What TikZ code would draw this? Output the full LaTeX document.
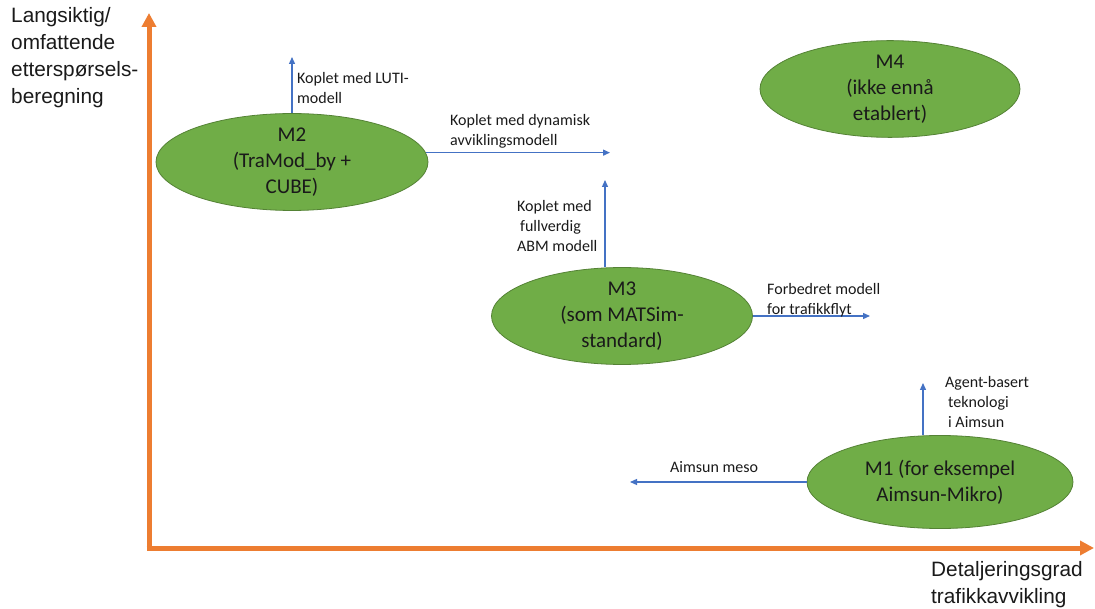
\documentclass[tikz,border=0pt]{standalone}
\usepackage{fontspec}
\setmainfont{Carlito}
\newfontfamily\arialf{Liberation Sans}
\usetikzlibrary{arrows.meta,shapes.geometric}
\definecolor{axisorange}{HTML}{ED7D31}
\definecolor{mgreen}{HTML}{70AD47}
\definecolor{mborder}{HTML}{548235}
\definecolor{ablue}{HTML}{4472C4}
\definecolor{txt}{HTML}{1A1A1A}
\begin{document}
\begin{tikzpicture}[x=1pt,y=-1pt,
  model/.style={ellipse, fill=mgreen, draw=mborder, line width=0.8pt, inner sep=0pt,
    align=center, text=txt, font=\fontsize{21}{26}\selectfont},
  flow/.style={draw=ablue, line width=1.3pt, -{Triangle[length=7pt,width=6pt]}},
  axisline/.style={draw=axisorange, line width=5pt, -{Triangle[length=14pt,width=14pt]}},
  lbl/.style={inner sep=0pt, align=left, text=txt, font=\fontsize{16}{20}\selectfont},
  axlbl/.style={inner sep=0pt, align=left, text=txt, font=\arialf\fontsize{20.8}{27}\selectfont}
]
\useasboundingbox[fill=white] (0,0) rectangle (1095,609);

% axes
\coordinate (origin) at (149,548);
\coordinate (ytop) at (149,13);
\coordinate (xend) at (1094,548);
\draw[axisline] ([yshift=2.5pt]origin) -- (ytop);
\draw[axisline] ([xshift=-2.5pt]origin) -- (xend);

% models
\node[model, minimum width=272pt, minimum height=90pt] (m2) at (292,162) {M2\\(TraMod\_by +\\CUBE)};
\node[model, minimum width=260pt, minimum height=82pt] (m4) at (890,89) {M4\\(ikke ennå\\etablert)};
\node[model, minimum width=261pt, minimum height=87pt] (m3) at (622,316) {M3\\(som MATSim-\\standard)};
\node[model, minimum width=266pt, minimum height=93pt] (m1) at (940,482) {M1 (for eksempel\\Aimsun-Mikro)};

% free ends
\coordinate (m2top) at (292,57);
\coordinate (m2r) at (610,153);
\coordinate (m3top) at (605,180);
\coordinate (m3r) at (870,317);
\coordinate (m1top) at (923,383);
\coordinate (m1l) at (630,484);

% connectors
\draw[flow] (m2.north) -- (m2top);
\draw[flow] (m2.4) -- (m2.4 -| m2r);
\draw[flow] (m3top |- m3.north) -- (m3top);
\draw[flow] (m3.east) -- (m3.east -| m3r);
\draw[flow] (m1top |- m1.north) -- (m1top);
\draw[flow] (m1.west) -- (m1.west -| m1l);

% labels
\node[lbl, anchor=west] (l1) at (297,88) {Koplet med LUTI-\\modell};
\node[lbl, anchor=west] (l2) at (450,131.5) {Koplet med dynamisk\\avviklingsmodell};
\node[lbl, anchor=west] (l3) at (517,226) {Koplet med\\\hspace{3pt}fullverdig\\ABM modell};
\node[lbl, anchor=west] (l4) at (767,300) {Forbedret modell\\for trafikkflyt};
\node[lbl, anchor=west] (l5) at (945,402) {Agent-basert\\\hspace{3pt}teknologi\\\hspace{3pt}i Aimsun};
\node[lbl, anchor=west] (l6) at (670,467) {Aimsun meso};

% axis labels
\node[axlbl, anchor=west] (ya) at (11,58) {Langsiktig/\\omfattende\\etterspørsels-\\beregning};
\node[axlbl, anchor=west] (xa) at (931,585) {Detaljeringsgrad\\trafikkavvikling};
\end{tikzpicture}
\end{document}
